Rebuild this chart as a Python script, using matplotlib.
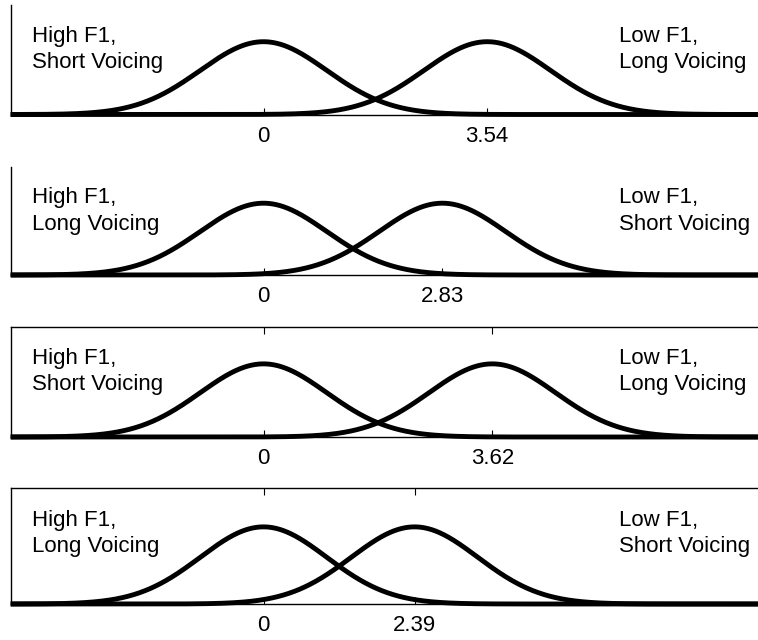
import numpy as np
import matplotlib
matplotlib.use("Agg")
import matplotlib.pyplot as plt

plt.rcParams['font.family'] = ['Liberation Sans', 'DejaVu Sans']

# data
separations = [3.54, 2.83, 3.62, 2.39]
left_labels = ["High F1,\nShort Voicing", "High F1,\nLong Voicing",
               "High F1,\nShort Voicing", "High F1,\nLong Voicing"]
right_labels = ["Low F1,\nLong Voicing", "Low F1,\nShort Voicing",
                "Low F1,\nLong Voicing", "Low F1,\nShort Voicing"]
has_top_box = [False, False, True, True]
sigma = 1.0

W, H = 758, 640
fig = plt.figure(figsize=(W / 100, H / 100), dpi=100)

# panel positions in pixels (top, bottom)
panels_px = [(5, 114.5), (167, 275), (327, 437), (488, 604)]
x_left_px = 10.7
px_per_unit = 63.2
xmin, xmax = -4.0, 8.0
ax_w_px = (xmax - xmin) * px_per_unit

def gauss(x, mu):
    return np.exp(-0.5 * ((x - mu) / sigma) ** 2) / (sigma * np.sqrt(2 * np.pi))

x = np.linspace(xmin, xmax, 1200)

for i, d in enumerate(separations):
    top, bot = panels_px[i]
    ax = fig.add_axes([x_left_px / W, (H - bot) / H, ax_w_px / W, (bot - top) / H])
    ax.set_xlim(xmin, xmax)
    ax.set_ylim(0, 0.6)

    for mu in (0.0, d):
        ax.plot(x, gauss(x, mu), color='black', lw=3.5, solid_capstyle='butt',
                clip_on=False)

    ax.set_xticks([0, d])
    ax.set_xticklabels(["0", f"{d:.2f}"])
    ax.set_yticks([])
    ax.spines['right'].set_visible(False)
    ax.spines['top'].set_visible(has_top_box[i])
    for s in ax.spines.values():
        s.set_linewidth(1.0)
    ax.tick_params(axis='x', direction='in', length=5, width=0.8,
                   labelsize=16, pad=8, top=has_top_box[i])

    xl = xmin + (32 - x_left_px) / px_per_unit
    xr = xmin + (619 - x_left_px) / px_per_unit
    ax.text(xl, 0.487, left_labels[i], fontsize=16, ha='left', va='top', linespacing=1.33)
    ax.text(xr, 0.487, right_labels[i], fontsize=16, ha='left', va='top', linespacing=1.33)

fig.savefig("out.png", dpi=100)
